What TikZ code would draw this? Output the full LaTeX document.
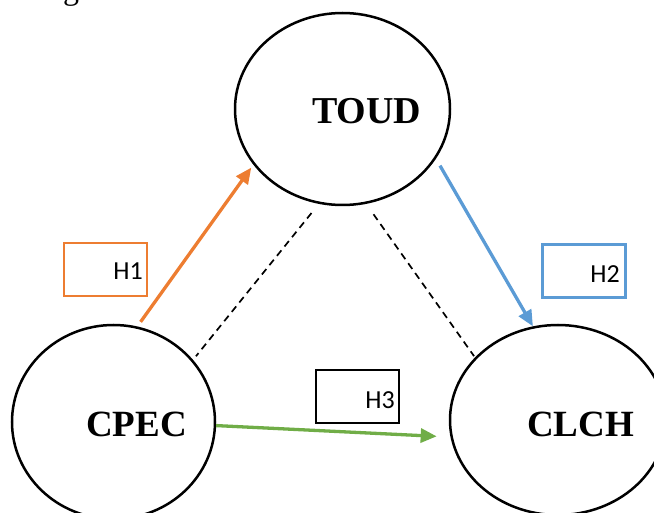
\documentclass[tikz,border=0pt]{standalone}
\usepackage{fontspec}
\setmainfont{Liberation Serif}
\newfontfamily\hfont{Carlito}
\usetikzlibrary{shapes.geometric,arrows.meta}

\definecolor{hOrange}{HTML}{ED7D31}
\definecolor{hBlue}{HTML}{5B9BD5}
\definecolor{hGreen}{HTML}{70AD47}

\begin{document}
\begin{tikzpicture}[x=1pt,y=-1pt,
  construct/.style={draw, ellipse, line width=2.5pt, inner sep=0pt},
  cname/.style={font=\fontsize{37}{39}\selectfont\bfseries, anchor=base west, inner sep=0pt},
  hbox/.style={draw, line width=2.2pt, minimum width=83pt, minimum height=53pt, inner sep=0pt},
  htext/.style={font=\hfont\fontsize{26}{28}\selectfont, anchor=base east, inner sep=0pt},
  link/.style={line width=3.3pt, -{Triangle[length=16pt,width=14pt]}},
  corr/.style={line width=1.7pt, dash pattern=on 7pt off 5pt}]
\useasboundingbox (0,0) rectangle (654,513);
\clip (0,0) rectangle (654,513);

% caption fragment above the figure
\node[font=\fontsize{32}{34}\selectfont, anchor=base, inner sep=0pt] (capg) at (71,0) {g};

% the three constructs
\node[construct, minimum width=215pt, minimum height=192pt] (toud) at (342.5,109) {};
\node[construct, minimum width=203pt, minimum height=194pt] (cpec) at (113.5,422) {};
\node[construct, minimum width=216pt, minimum height=190pt] (clch) at (558,420) {};

\node[cname, font=\fontsize{38}{40}\selectfont\bfseries] (toudt) at (312,124) {TOUD};
\node[cname] (cpect) at (86,436) {CPEC};
\node[cname] (clcht) at (527,436) {CLCH};

% hypothesis boxes
\node[hbox, draw=hOrange] (h1) at (105.5,269.5) {};
\node[htext] (h1t) at (143,280) {H1};
\node[hbox, draw=hBlue] (h2) at (584,271) {};
\node[htext] (h2t) at (620,283) {H2};
\node[hbox, draw=black] (h3) at (357.5,396.5) {};
\node[htext] (h3t) at (395,408) {H3};

% hypothesised paths
\draw[link, hOrange, shorten <=5.6pt, shorten >=3.6pt] (cpec.76.2) -- (toud.212.7);
\draw[link, hBlue, shorten <=8pt] (toud.-28.7) -- (clch.105.2);
\draw[link, hGreen, shorten >=13.8pt] (cpec.-2.8) -- (clch.189.4);

% correlations
\draw[corr, shorten <=11.7pt, shorten >=4.6pt] (toud.256.8) -- (cpec.38);
\draw[corr, shorten <=12.7pt, shorten >=1.6pt] (toud.284.5) -- (clch.143.1);
\end{tikzpicture}
\end{document}
